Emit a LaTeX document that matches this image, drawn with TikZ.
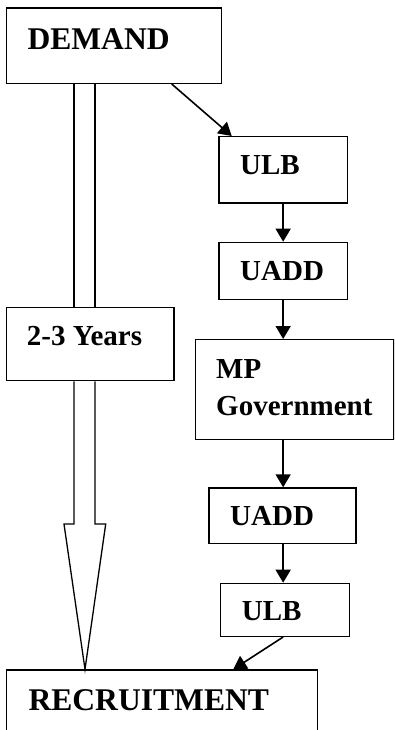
\documentclass[tikz,border=0pt]{standalone}
\usepackage{fontspec}
\setmainfont{Liberation Serif}
\usetikzlibrary{arrows.meta,calc}
\tikzset{
 box/.style={draw, line width=1.3pt, rectangle, inner sep=0pt, anchor=north west},
 lbl/.style={anchor=base west, inner sep=0pt, font=\fontsize{29}{34}\selectfont\bfseries},
 biglbl/.style={anchor=base west, inner sep=0pt, font=\fontsize{31.6}{36}\selectfont\bfseries},
 conn/.style={line width=1.6pt, -{Triangle[width=15pt,length=13pt]}},
 hollow/.style={line width=1.3pt, line join=miter}
}
\begin{document}
\begin{tikzpicture}[x=1pt,y=-1pt]
\useasboundingbox (0,0) rectangle (394,730);
\clip (0,0) rectangle (394,730);
% boxes
\node[box, minimum width=214.7pt, minimum height=75.4pt] (demand) at (6,7.3) {};
\node[box, minimum width=128.4pt, minimum height=66.3pt] (ulb1) at (218.3,136) {};
\node[box, minimum width=128.4pt, minimum height=57pt] (uadd1) at (218.3,241.7) {};
\node[box, minimum width=198.3pt, minimum height=100pt] (mp) at (195,339) {};
\node[box, minimum width=147pt, minimum height=55.4pt] (uadd2) at (208.3,487.3) {};
\node[box, minimum width=128.7pt, minimum height=53pt] (ulb2) at (220,582.7) {};
\node[box, minimum width=310.7pt, minimum height=80pt] (recruit) at (6,669.3) {};
\node[box, minimum width=167.3pt, minimum height=73.3pt] (years) at (6,306.7) {};
% texts
\node[biglbl] (tdemand) at (27.3,49.3) {DEMAND};
\node[lbl] (tulb1) at (240,174.3) {ULB};
\node[lbl] (tuadd1) at (240,280) {UADD};
\node[lbl] (tmp) at (216,378.3) {MP};
\node[lbl] (tgov) at (216,415.7) {Government};
\node[lbl] (tuadd2) at (230,525.7) {UADD};
\node[lbl] (tulb2) at (241.7,620) {ULB};
\node[biglbl] (trecruit) at (28.3,710) {RECRUITMENT};
\node[lbl] (tyears) at (26.7,345.7) {2-3 Years};
% connectors
\draw[conn] ([xshift=165.7pt]demand.south west) -- ([xshift=13.4pt]ulb1.north west);
\draw[conn] (ulb1.south) -- (uadd1.north);
\draw[conn] (uadd1.south) -- (uadd1.south |- mp.north);
\draw[conn] (uadd1.south |- mp.south) -- (uadd1.south |- uadd2.north);
\draw[conn] (uadd1.south |- uadd2.south) -- (uadd1.south |- ulb2.north);
\draw[conn] (uadd1.south |- ulb2.south) -- ([xshift=227.3pt]recruit.north west);
% hollow arrow
\draw[hollow] ([xshift=68pt]demand.south west) -- ([xshift=68pt]years.north west);
\draw[hollow] ([xshift=89pt]demand.south west) -- ([xshift=89pt]years.north west);
\draw[hollow] ([xshift=68pt]years.south west) -- ++(0,142.7) -- ++(-10,0)
  -- ([xshift=79pt]recruit.north west)
  -- ($([xshift=89pt]years.south west)+(10.7,142.7)$) -- ++(-10.7,0)
  -- ([xshift=89pt]years.south west);
\end{tikzpicture}
\end{document}
